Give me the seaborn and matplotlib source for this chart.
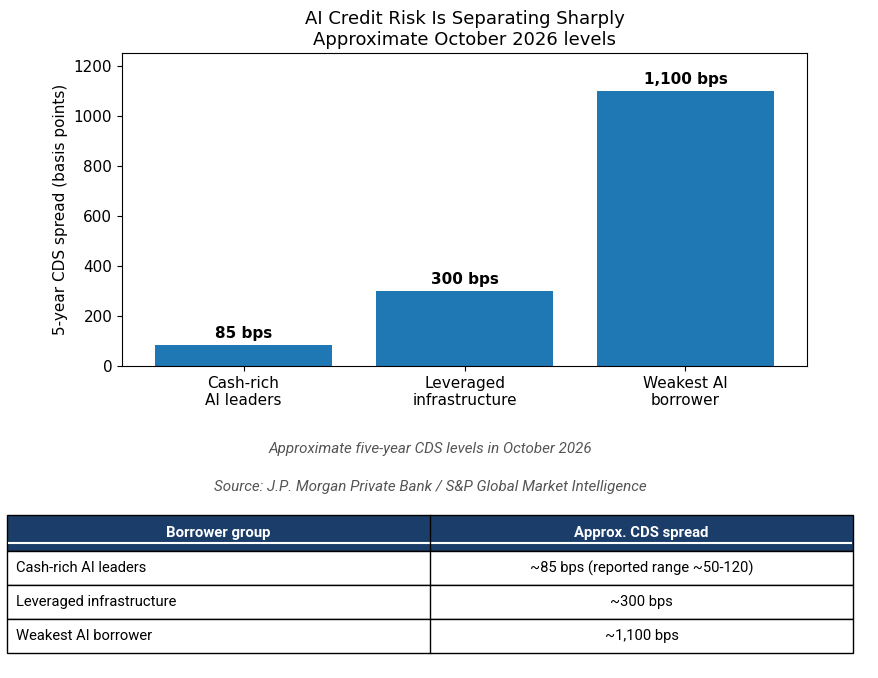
import matplotlib
matplotlib.use("Agg")
import matplotlib.pyplot as plt
from matplotlib.patches import Rectangle
from matplotlib import font_manager
import seaborn as sns

# chart data
categories = ["Cash-rich\nAI leaders", "Leveraged\ninfrastructure", "Weakest AI\nborrower"]
spreads = [85, 300, 1100]
bar_labels = ["85 bps", "300 bps", "1,100 bps"]

# table data
table_header = ["Borrower group", "Approx. CDS spread"]
table_groups = ["Cash-rich AI leaders", "Leveraged infrastructure", "Weakest AI borrower"]
table_spreads = ["~85 bps (reported range ~50-120)", "~300 bps", "~1,100 bps"]

caption = "Approximate five-year CDS levels in October 2026"
source = "Source: J.P. Morgan Private Bank / S&P Global Market Intelligence"

W, H = 879, 678
BLUE = "#1f77b4"
NAVY = "#1b3d69"

installed = {f.name for f in font_manager.fontManager.ttflist}
narrow = [f for f in ["Liberation Sans Narrow", "Roboto", "DejaVu Sans"] if f in installed]

fig = plt.figure(figsize=(W / 100, H / 100), dpi=100)
ax = fig.add_axes([122 / W, 1 - 366 / H, (807 - 122) / W, (366 - 53) / H])

sns.barplot(x=categories, y=spreads, color=BLUE, saturation=1, width=0.8, ax=ax)
ax.bar_label(ax.containers[0], labels=bar_labels, padding=3,
             fontsize=11, fontweight="bold")
ax.set_xlim(-0.55, 2.55)
ax.set_ylim(0, 1252)
ax.set_ylabel("5-year CDS spread (basis points)", fontsize=11)
ax.tick_params(labelsize=11)
ax.set_title("AI Credit Risk Is Separating Sharply\nApproximate October 2026 levels",
             fontsize=13, pad=6)

# captions under the chart
fig.text(430 / W, 1 - 449 / H, caption, ha="center", va="center",
         style="italic", color="#555555", fontsize=10.9, family=narrow)
fig.text(430 / W, 1 - 487 / H, source, ha="center", va="center",
         style="italic", color="#555555", fontsize=10.9, family=narrow)

# table drawn in pixel coordinates
tx = fig.add_axes([0, 0, 1, 1])
tx.set_xlim(0, W)
tx.set_ylim(H, 0)
tx.axis("off")

left, mid, right = 7, 430, 853
top, head_bot = 515, 551
row_h = 34

tx.add_patch(Rectangle((left, top), right - left, head_bot - top,
                       facecolor=NAVY, edgecolor="black", lw=1))
tx.plot([left + 2, right - 2], [542.5, 542.5], color="white", lw=1.5)
tx.text((left + mid) / 2, 533, table_header[0], ha="center", va="center",
        color="white", fontweight="bold", fontsize=10.7, family=narrow)
tx.text((mid + right) / 2, 533, table_header[1], ha="center", va="center",
        color="white", fontweight="bold", fontsize=10.7, family=narrow)

for i, (g, s) in enumerate(zip(table_groups, table_spreads)):
    y0 = head_bot + i * row_h
    tx.add_patch(Rectangle((left, y0), right - left, row_h,
                           facecolor="white", edgecolor="black", lw=1))
    tx.text(left + 9, y0 + row_h / 2, g, ha="left", va="center",
            fontsize=10.6, family=narrow)
    tx.text((mid + right) / 2, y0 + row_h / 2, s, ha="center", va="center",
            fontsize=10.6, family=narrow)

tx.plot([mid, mid], [top, head_bot + 3 * row_h], color="black", lw=1)

fig.savefig("out.png", dpi=100)
